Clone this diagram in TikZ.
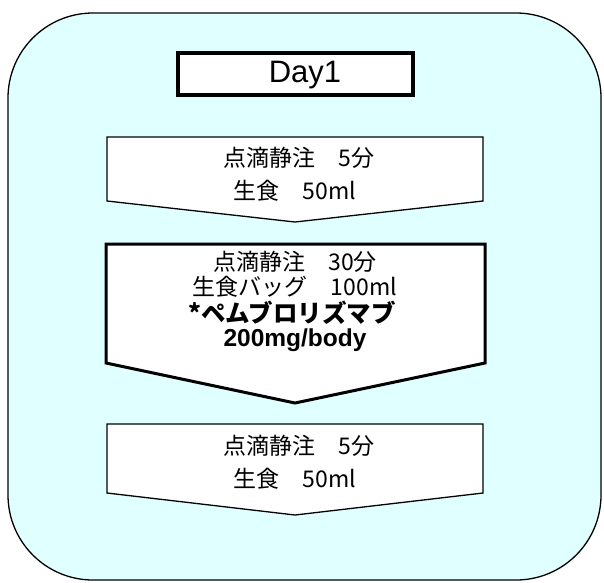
\documentclass[tikz,border=0pt]{standalone}
\usepackage{fontspec}
\setmainfont{Liberation Sans}
\newfontfamily\jp{Noto Sans CJK JP}
\usepackage{tikz}
\definecolor{panelcyan}{RGB}{224,255,255}

\begin{document}
\begin{tikzpicture}[x=1pt, y=-1pt,
    chevron/.style={draw, fill=white, line width=1.3pt, line join=miter},
    steptext/.style={inner sep=0pt, font=\jp\fontsize{23}{27}\selectfont}]
            \useasboundingbox (0,0) rectangle (604,582);

            % Panel
            \draw[fill=panelcyan, line width=1.3pt, rounded corners=85pt] (8,13) rectangle (601,580);

            % Title
            \node[draw, fill=white, line width=4pt, minimum width=235pt, minimum height=42pt] (day) at (295.5,74) {};
            \node[inner sep=0pt, font=\fontsize{31}{35}\selectfont] (daylabel) at (305,75) {Day1};

            % Chevrons
            \draw[chevron] (107,137) -- (483,137) -- (483,201) -- (295,222) -- (107,201) -- cycle;
            \draw[chevron, line width=3pt] (106,244) -- (485,244) -- (485,363) -- (295,403) -- (106,363) -- cycle;
            \draw[chevron] (107,424) -- (483,424) -- (483,493) -- (295,515) -- (107,493) -- cycle;

            % Nodes
            \node[steptext] (drip1) at (299,158) {点滴静注　5分};
            \node[steptext] (saline1) at (295,191) {生食　50ml};
            \node[steptext] (drip2) at (295,262) {点滴静注　30分};
            \node[steptext] (bag) at (295,287) {生食バッグ　100ml};
            \node[steptext, font=\jp\bfseries\fontsize{24.5}{28}\selectfont] (drug) at (292,313) {*ペムブロリズマブ};
            \node[inner sep=0pt, font=\bfseries\fontsize{24.5}{28}\selectfont] (dose) at (295,340) {200mg/body};
            \node[steptext] (drip3) at (299,446) {点滴静注　5分};
            \node[steptext] (saline3) at (295,479) {生食　50ml};
        \end{tikzpicture}
\end{document}
